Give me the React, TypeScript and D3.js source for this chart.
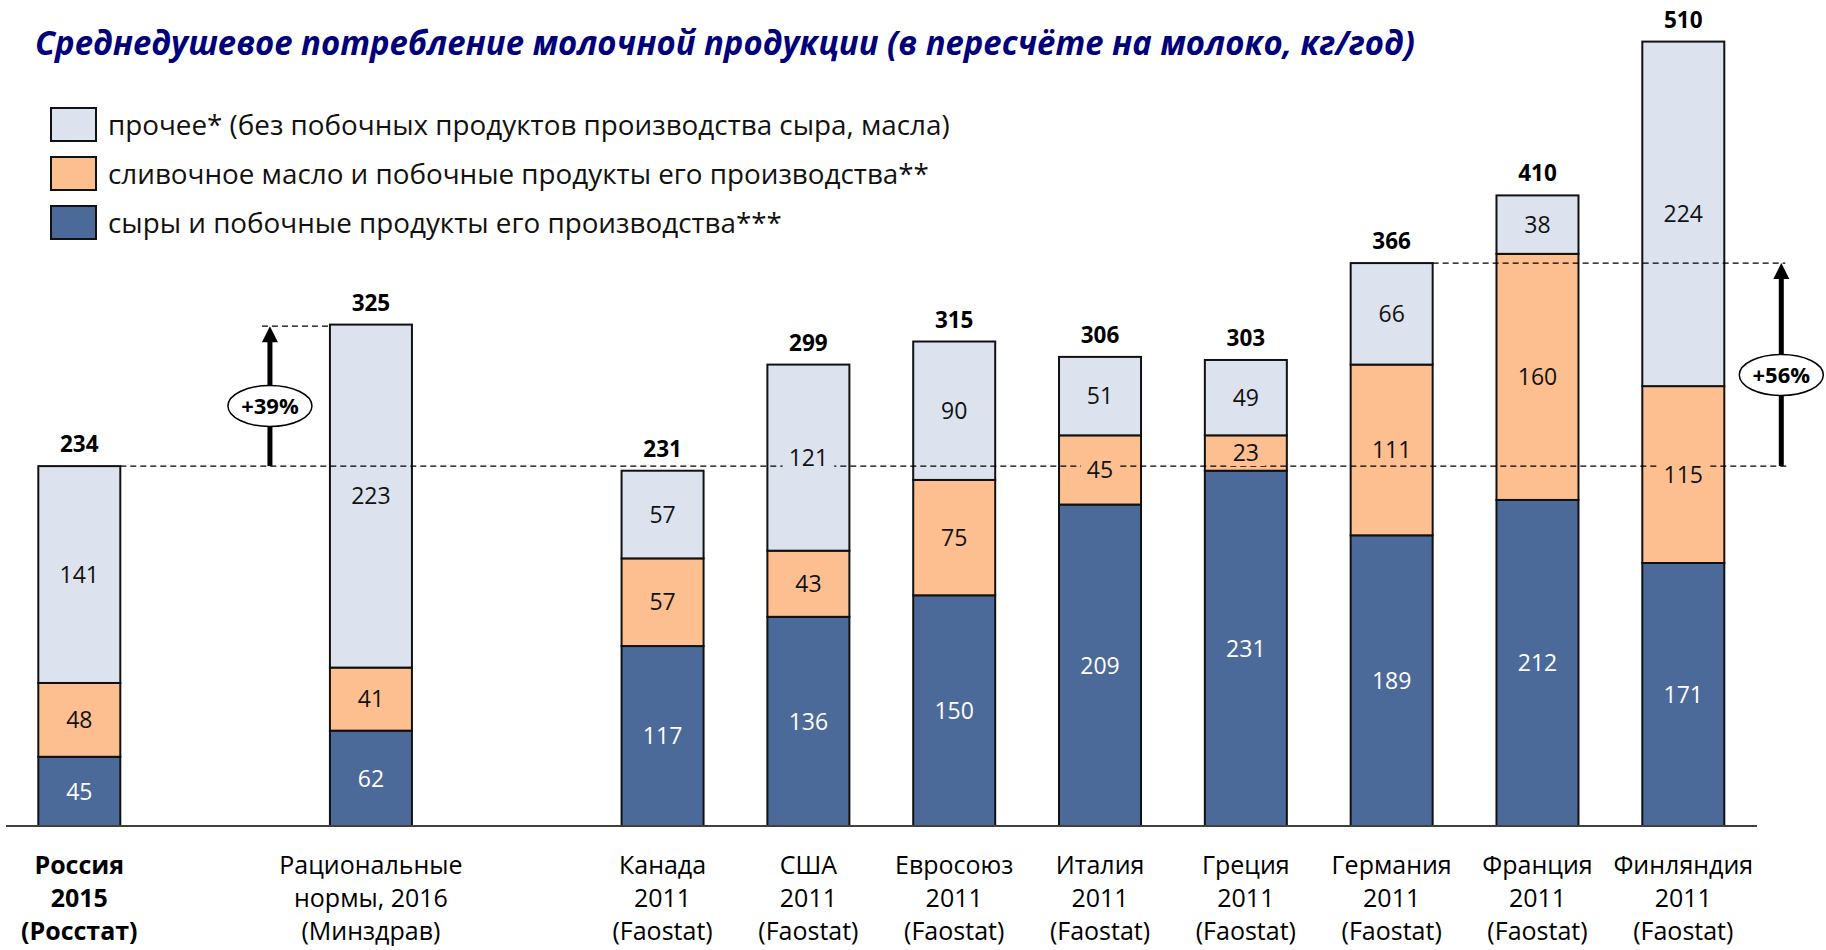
import React from "react";
import * as d3 from "d3";

const title = "Среднедушевое потребление молочной продукции (в пересчёте на молоко, кг/год)";
const categoryLines: string[][] = [
  ["Россия", "2015", "(Росстат)"],
  ["Рациональные", "нормы, 2016", "(Минздрав)"],
  ["Канада", "2011", "(Faostat)"],
  ["США", "2011", "(Faostat)"],
  ["Евросоюз", "2011", "(Faostat)"],
  ["Италия", "2011", "(Faostat)"],
  ["Греция", "2011", "(Faostat)"],
  ["Германия", "2011", "(Faostat)"],
  ["Франция", "2011", "(Faostat)"],
  ["Финляндия", "2011", "(Faostat)"],
];
const slots = [0, 2, 4, 5, 6, 7, 8, 9, 10, 11];
const cheese = [45, 62, 117, 136, 150, 209, 231, 189, 212, 171];
const butter = [48, 41, 57, 43, 75, 45, 23, 111, 160, 115];
const other = [141, 223, 57, 121, 90, 51, 49, 66, 38, 224];
const totals = [234, 325, 231, 299, 315, 306, 303, 366, 410, 510];
const seriesKeys = ["cheese", "butter", "other"];
const seriesNames = [
  "сыры и побочные продукты его производства***",
  "сливочное масло и побочные продукты его производства**",
  "прочее* (без побочных продуктов производства сыра, масла)",
];
const seriesColors = ["#4b6a9a", "#fdbf8f", "#dce3ee"];
const seriesTextColors = ["#ffffff", "#111111", "#111111"];
const refLow = 234;
const refMid = 325;
const refHigh = 366;
const growthLabels = ["+39%", "+56%"];

const FONT = "'Open Sans', sans-serif";

export default function App() {
  const W = 1826, H = 950;
  const x = d3.scaleLinear().domain([0, 11]).range([79.3, 1683.3]);
  const bw = 82;
  const y = d3.scaleLinear().domain([0, 510]).range([826, 41.6]);

  const rows = categoryLines.map((c, i) => ({
    i,
    cheese: cheese[i],
    butter: butter[i],
    other: other[i],
  }));
  const stacked = d3.stack<any>().keys(seriesKeys)(rows);

  const cx = (i: number) => x(slots[i]);
  const left = (i: number) => cx(i) - bw / 2;
  const right = (i: number) => cx(i) + bw / 2;

  const arrow1X = left(1) - 60;
  const arrow2X = right(9) + 57;

  const arrow = (ax: number, y0: number, y1: number, label: string, ey: number) => (
    <g>
      <line x1={ax} x2={ax} y1={y0} y2={y1 + 14} stroke="#000" strokeWidth={5} />
      <polygon points={`${ax},${y1} ${ax - 8},${y1 + 16} ${ax + 8},${y1 + 16}`} fill="#000" />
      <ellipse cx={ax} cy={ey} rx={42} ry={20.5} fill="#fff" stroke="#000" strokeWidth={1.5} />
      <text x={ax} y={ey} dy="0.36em" textAnchor="middle" fontFamily={FONT} fontWeight={700} fontSize={22} fill="#000">
        {label}
      </text>
    </g>
  );

  const legendOrder = [2, 1, 0];

  return (
    <svg width={W} height={H} style={{ position: "absolute", left: 0, top: 0, background: "#fff" }}>
      <rect x={0} y={0} width={W} height={H} fill="#fff" />
      <text x={35} y={55} fontFamily={FONT} fontWeight={700} fontStyle="italic" fontSize={33.5} fill="#00007a"
        textLength={1380} lengthAdjust="spacingAndGlyphs">
        {title}
      </text>

      {legendOrder.map((s, k) => (
        <g key={s}>
          <rect x={51} y={108 + k * 49} width={45} height={33} fill={seriesColors[s]} stroke="#111" strokeWidth={2} />
          <text x={108} y={108 + k * 49 + 27} fontFamily={FONT} fontSize={27.8} fill="#111">
            {seriesNames[s]}
          </text>
        </g>
      ))}

      {/* bars */}
      {stacked.map((layer, s) =>
        layer.map((d, i) => (
          <rect
            key={`${s}-${i}`}
            x={left(i)}
            y={y(d[1])}
            width={bw}
            height={y(d[0]) - y(d[1])}
            fill={seriesColors[s]}
            stroke="#111"
            strokeWidth={2}
          />
        ))
      )}

      {/* axis */}
      <line x1={6} x2={1757} y1={y(0)} y2={y(0)} stroke="#404040" strokeWidth={2} />

      {/* reference dashed lines */}
      <line x1={right(0)} x2={arrow2X + 7} y1={y(refLow)} y2={y(refLow)} stroke="#000" strokeWidth={1.3} strokeDasharray="6,4" />
      <line x1={arrow1X - 8} x2={left(1)} y1={y(refMid)} y2={y(refMid)} stroke="#000" strokeWidth={1.3} strokeDasharray="6,4" />
      <line x1={right(7)} x2={arrow2X + 4} y1={y(refHigh)} y2={y(refHigh)} stroke="#000" strokeWidth={1.3} strokeDasharray="6,4" />

      {/* value labels */}
      {stacked.map((layer, s) =>
        layer.map((d, i) => {
          const v = d[1] - d[0];
          const my = (y(d[0]) + y(d[1])) / 2;
          const tw = String(v).length * 13.2 + 12;
          return (
            <g key={`l-${s}-${i}`}>
              <rect x={cx(i) - tw / 2} y={my - 13} width={tw} height={26} fill={seriesColors[s]} />
              <text x={cx(i)} y={my} dy="0.36em" textAnchor="middle" fontFamily={FONT} fontSize={23} fill={seriesTextColors[s]}>
                {v}
              </text>
            </g>
          );
        })
      )}

      {/* totals */}
      {totals.map((t, i) => (
        <text key={`t-${i}`} x={cx(i)} y={y(stacked[2][i][1]) - 14} textAnchor="middle" fontFamily={FONT} fontWeight={700} fontSize={22.5} fill="#000">
          {t}
        </text>
      ))}

      {/* category labels */}
      {categoryLines.map((lines, i) => (
        <text key={`c-${i}`} textAnchor="middle" fontFamily={FONT} fontSize={25} fontWeight={i === 0 ? 700 : 400} fill="#000">
          {lines.map((ln, k) => (
            <tspan key={k} x={cx(i)} y={874 + k * 33}>
              {ln}
            </tspan>
          ))}
        </text>
      ))}

      {arrow(arrow1X, y(refLow), y(refMid), growthLabels[0], 406)}
      {arrow(arrow2X, y(refLow), y(refHigh), growthLabels[1], 375)}
    </svg>
  );
}
